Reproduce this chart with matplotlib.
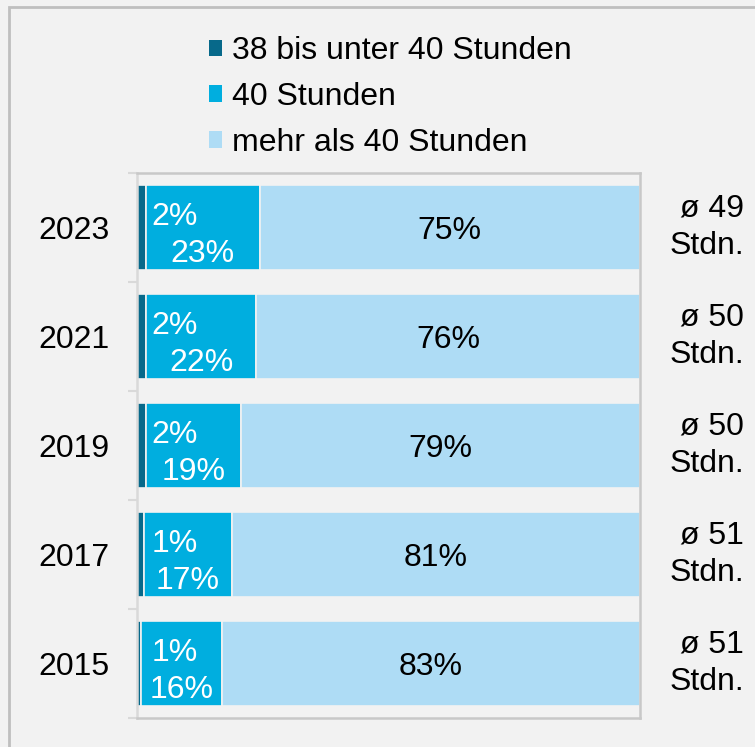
import matplotlib
matplotlib.use("Agg")
import matplotlib.pyplot as plt
from matplotlib.patches import Patch, Rectangle

plt.rcParams['font.family'] = ['Liberation Sans', 'DejaVu Sans']

years = ["2023", "2021", "2019", "2017", "2015"]
series_names = ["38 bis unter 40 Stunden", "40 Stunden", "mehr als 40 Stunden"]
# segment widths (percent)
share_38_40 = [1.8, 1.8, 1.7, 1.3, 0.8]
share_40 = [22.6, 21.9, 19.0, 17.5, 16.1]
share_over40 = [75.6, 76.3, 79.3, 81.2, 83.1]
# printed labels
label_38_40 = ["2%", "2%", "2%", "1%", "1%"]
label_40 = ["23%", "22%", "19%", "17%", "16%"]
label_over40 = ["75%", "76%", "79%", "81%", "83%"]
mean_hours = [49, 50, 50, 51, 51]

colors = ["#07698A", "#00AEDF", "#AEDCF5"]
FS = 23
W, H = 755, 747

fig = plt.figure(figsize=(W / 100, H / 100), dpi=100)
fig.patch.set_facecolor("#F2F2F2")

# outer border
fig.patches.append(Rectangle((9 / W, -0.1), 1.2, 1.1 - 7 / H,
                             transform=fig.transFigure, fill=False,
                             edgecolor="#BFBFBF", linewidth=2, zorder=0))

ax = fig.add_axes([137 / W, 1 - 718 / H, (640 - 137) / W, (718 - 173) / H])
ax.set_facecolor("#F2F2F2")

y = list(range(len(years)))
h = 0.78
left2 = share_38_40
left3 = [a + b for a, b in zip(share_38_40, share_40)]
ax.barh(y, share_38_40, left=0, height=h, color=colors[0], edgecolor="#F2F2F2", linewidth=1.2, zorder=2)
ax.barh(y, share_40, left=left2, height=h, color=colors[1], edgecolor="#F2F2F2", linewidth=1.2, zorder=2)
ax.barh(y, share_over40, left=left3, height=h, color=colors[2], edgecolor="#F2F2F2", linewidth=1.2, zorder=2)

for i in y:
    ax.text(7.5, i - 0.13, label_38_40[i], ha="center", va="center_baseline", color="white", fontsize=FS, zorder=3)
    ax.text(left2[i] + share_40[i] / 2, i + 0.21, label_40[i], ha="center", va="center_baseline", color="white", fontsize=FS, zorder=3)
    ax.text(left3[i] + share_over40[i] / 2, i, label_over40[i], ha="center", va="center_baseline", color="black", fontsize=FS, zorder=3)
    ax.annotate(f"ø {mean_hours[i]}\nStdn.", xy=(1, i), xycoords=("axes fraction", "data"),
                xytext=(104, 0), textcoords="offset pixels", ha="right", va="center",
                multialignment="right", fontsize=FS, color="black", linespacing=1.32,
                annotation_clip=False)

ax.set_xlim(0, 100)
ax.set_ylim(len(years) - 0.5, -0.5)
ax.set_xticks([])
ax.set_yticks(y)
ax.set_yticklabels(years, fontsize=FS)
ax.tick_params(axis="y", which="major", length=0, pad=20)
ax.set_yticks([k - 0.5 for k in range(len(years) + 1)], minor=True)
ax.tick_params(axis="y", which="minor", length=6.5, width=1.5, color="#D9D9D9")
for s in ["top", "right", "bottom"]:
    ax.spines[s].set_color("#C8C8C8")
    ax.spines[s].set_linewidth(1.8)
ax.spines["left"].set_color("#D9D9D9")
ax.spines["left"].set_linewidth(1.8)

handles = [Patch(facecolor=c, edgecolor="none") for c in colors]
fig.legend(handles, series_names, loc="upper left", bbox_to_anchor=(209 / W, 1 - 36 / H),
           frameon=False, fontsize=FS, handlelength=0.4, handleheight=0.4,
           handletextpad=0.33, labelspacing=0.5, borderpad=0, borderaxespad=0)

fig.savefig("out.png", dpi=100, facecolor=fig.get_facecolor())
